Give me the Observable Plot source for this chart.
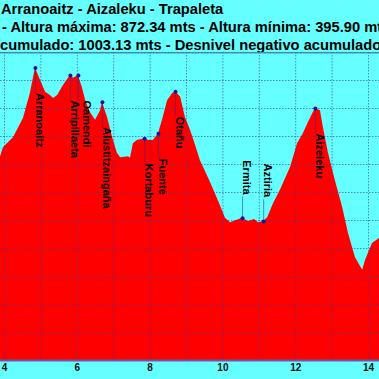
<!DOCTYPE html>
<html><head><meta charset="utf-8">
<script src="https://cdn.jsdelivr.net/npm/d3@7"></script>
<script src="https://cdn.jsdelivr.net/npm/@observablehq/plot@0.6"></script>
<style>
html,body{margin:0;padding:0;background:#66ffff;width:379px;height:379px;overflow:hidden;}
#titles{position:absolute;left:0;top:0;width:379px;height:52px;overflow:hidden;font:bold 14.7px "Liberation Sans",Arial,sans-serif;line-height:18px;color:#000;white-space:nowrap;}
#titles div{position:absolute;}
#chart{position:absolute;left:0;top:52px;width:379px;height:327px;overflow:hidden;}
</style></head><body>
<div id="titles"></div>
<div id="chart"></div>
<script>
// ---- data ----
const titleLines = [
  "Arranoaitz - Aizaleku - Trapaleta",
  "- Altura máxima: 872.34 mts - Altura mínima: 395.90 mts",
  "cumulado: 1003.13 mts - Desnivel negativo acumulado"
];
const distKm = [3.84,3.97,4.25,4.52,4.71,4.85,4.99,5.13,5.26,5.35,5.46,5.62,5.81,5.90,6.03,6.14,6.23,6.36,6.50,6.64,6.69,6.83,6.97,7.10,7.19,7.41,7.46,7.54,7.65,7.85,7.96,8.09,8.23,8.34,8.48,8.62,8.70,8.84,8.97,9.11,9.25,9.38,9.66,9.93,10.07,10.21,10.37,10.54,10.70,10.87,10.98,11.12,11.23,11.39,11.58,11.86,12.05,12.21,12.35,12.54,12.68,12.76,12.90,13.09,13.29,13.45,13.64,13.84,13.92,14.11,14.30,14.41];
const altM = [703,730,748,782,827,872.34,850,829,823,818,823,841,859,854,859,837,814,793,779,796,811,784,748,720,712,714,711,737,743,746,743,743,755,779,814,827,830,820,784,761,734,707,668,627,604,596,600,604,598,602,596,598,605,630,654,695,737,755,775,800,796,766,720,671,623,577,534,511,529,559,568,575];
const pointNames = ["Arranoaitz","Arripillaeta","Oamendi","Alustitzaingaña","Kortaburu","Fuente","Otañu","Ermita","Aztiria","Aizeleku"];
const pointKm = [4.85,5.81,6.03,6.69,7.85,8.23,8.70,10.54,11.12,12.54];
const pointAlt = [872.34,859,859,811,746,755,830,604,598,800];
const xTickLabels = [4,6,8,10,12,14];

// ---- titles ----
const tEl = document.getElementById("titles");
const tLeft = [1,2,0];
titleLines.forEach((t,i)=>{
  const d = document.createElement("div");
  d.textContent = t;
  d.style.left = tLeft[i] + "px";
  d.style.top = (i*18) + "px";
  tEl.appendChild(d);
});

// ---- chart ----
const W = 379, H = 327, plotH = 308;
const x0 = 3.89, x1 = 14.302;
const yLo = 350, yHi = 900;
const pxPerKm = W/(x1-x0), pxPerM = plotH/(yHi-yLo);
const profile = distKm.map((d,i)=>({km:d, m:altM[i]}));
const mid = (yLo+yHi)/2;
const ctx = document.createElement("canvas").getContext("2d");
ctx.font = 'bold 11px "Liberation Sans"';
const pts = pointNames.map((name,i)=>({name, km:pointKm[i], m:pointAlt[i], above: pointAlt[i] < mid, len: ctx.measureText(name).width}));
let prev = -Infinity;
for (const p of pts) {
  p.lx = p.km;
  if (!p.above) {
    const minKm = prev + 12/pxPerKm;
    if (p.lx < minKm) p.lx = minKm;
    prev = p.lx;
  }
  if (p.above) { p.ly1 = p.m; p.ly2 = p.m + (58 - p.len - 2)/pxPerM; }
  else { p.ly1 = p.m; p.ly2 = p.m - 25/pxPerM; }
}
const below = pts.filter(p=>!p.above), above = pts.filter(p=>p.above);
const gridStyle = {stroke:"#3a3a99", strokeOpacity:0.6, strokeDasharray:"1.5,1.5", strokeWidth:1};

const chart = Plot.plot({
  width: W, height: H, marginLeft:0, marginRight:0, marginTop:0, marginBottom: H-plotH,
  x: {domain:[x0,x1], axis:null},
  y: {domain:[yLo,yHi], axis:null},
  style: {background:"transparent", fontFamily:'"Liberation Sans", Arial, sans-serif', overflow:"hidden"},
  marks: [
    Plot.areaY(profile, {x:"km", y1:yLo, y2:"m", fill:"#ff0000", clip:true}),
    Plot.gridX(d3.range(3,16), gridStyle),
    Plot.gridY(d3.range(400,901,50), gridStyle),
    Plot.ruleY([yHi], {stroke:"#3a7aa8", strokeWidth:2, strokeOpacity:0.8}),
    Plot.ruleY([yLo], {stroke:"#6858a8", strokeWidth:2}),
    Plot.axisX(xTickLabels, {tickSize:0, tickPadding:3, fontSize:10, fontWeight:"bold", fill:"#111", label:null}),
    Plot.link(pts, {x1:"km", x2:"km", y1:"ly1", y2:"ly2", stroke:"#303080", strokeOpacity:0.7, strokeWidth:0.8}),
    Plot.dot(pts, {x:"km", y:"m", r:2, fill:"#1515a0"}),
    Plot.text(below, {x:"lx", y:"m", text:"name", rotate:90, textAnchor:"start", lineAnchor:"middle", dx:4, dy:25, fontSize:11, fontWeight:"bold", fill:"#000"}),
    Plot.text(above, {x:"lx", y:"m", text:"name", rotate:90, textAnchor:"start", lineAnchor:"middle", dx:4, dy:-58, fontSize:11, fontWeight:"bold", fill:"#000"})
  ]
});
document.getElementById("chart").appendChild(chart);
</script>
</body></html>
